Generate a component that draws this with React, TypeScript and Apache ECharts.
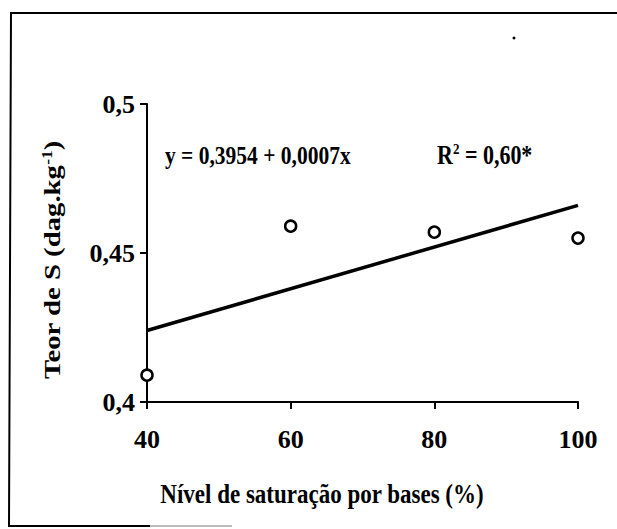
import React, { useEffect, useRef } from "react";
import * as echarts from "echarts";

const xValues = [40, 60, 80, 100];
const sValues = [0.409, 0.459, 0.457, 0.455];
const trendX = [40, 100];
const trendY = [0.424, 0.466];
const xTicks = { min: 40, max: 100, interval: 20 };
const yTicks = { min: 0.4, max: 0.5, interval: 0.05 };
const equationText = "y = 0,3954 + 0,0007x";
const r2Text = "R{sup|2} = 0,60*";
const xTitle = "Nível de saturação por bases (%)";
const yTitle = "Teor de S (dag.kg{sup|-1})";

const FONT = "Liberation Serif";

export default function App() {
  const ref = useRef<HTMLDivElement>(null);
  useEffect(() => {
    if (!ref.current) return;
    const chart = echarts.init(ref.current, null, { renderer: "svg" });
    const txt = (size: number) => ({
      fontFamily: FONT,
      fontWeight: "bold" as const,
      fontSize: size,
      fill: "#000",
    });
    const option: any = {
      animation: false,
      backgroundColor: "#ffffff",
      textStyle: { fontFamily: FONT, fontWeight: "bold", color: "#000" },
      grid: { left: 147, right: 39, top: 104, bottom: 127 },
      xAxis: {
        type: "value",
        min: xTicks.min,
        max: xTicks.max,
        interval: xTicks.interval,
        axisLine: { lineStyle: { color: "#000", width: 2 } },
        axisTick: { length: 7, lineStyle: { color: "#000", width: 2 } },
        splitLine: { show: false },
        axisLabel: {
          formatter: (v: number) => `{t|${v}}`,
          margin: 24,
          rich: {
            t: { fontFamily: FONT, fontWeight: "bold", fontSize: 26, color: "#000" },
          },
        },
      },
      yAxis: {
        type: "value",
        min: yTicks.min,
        max: yTicks.max,
        interval: yTicks.interval,
        axisLine: { lineStyle: { color: "#000", width: 2 } },
        axisTick: { length: 7, lineStyle: { color: "#000", width: 2 } },
        splitLine: { show: false },
        axisLabel: {
          margin: 12,
          formatter: (v: number) => `{t|${String(+v.toFixed(2)).replace(".", ",")}}`,
          rich: {
            t: { fontFamily: FONT, fontWeight: "bold", fontSize: 26, color: "#000" },
          },
        },
      },
      series: [
        {
          type: "line",
          data: trendX.map((x, i) => [x, trendY[i]]),
          symbol: "none",
          lineStyle: { color: "#000", width: 3.5 },
          z: 2,
        },
        {
          type: "scatter",
          data: xValues.map((x, i) => [x, sValues[i]]),
          symbol: "circle",
          symbolSize: 11,
          itemStyle: { color: "#fff", borderColor: "#000", borderWidth: 2.5, opacity: 1 },
          z: 3,
        },
      ],
      graphic: [
        {
          type: "polyline",
          shape: { points: [[620, 13], [11, 13], [9, 526], [150, 526]] },
          style: { stroke: "#000", lineWidth: 2, fill: "none" },
        },
        {
          type: "line",
          shape: { x1: 150, y1: 526, x2: 232, y2: 526 },
          style: { stroke: "#bbb", lineWidth: 2 },
        },
        {
          type: "circle",
          shape: { cx: 514, cy: 38, r: 1.5 },
          style: { fill: "#000" },
        },
        {
          type: "text",
          x: 165,
          y: 155,
          scaleY: 1.2,
          style: {
            text: equationText,
            ...txt(21.5),
            align: "left",
            verticalAlign: "middle",
          },
        },
        {
          type: "text",
          x: 437,
          y: 155,
          scaleY: 1.2,
          style: {
            text: r2Text,
            ...txt(22),
            align: "left",
            verticalAlign: "middle",
            rich: {
              sup: { ...txt(13), padding: [0, 0, 10, 0] },
            },
          },
        },
        {
          type: "text",
          x: 52,
          y: 260,
          rotation: Math.PI / 2,
          scaleX: 1.25,
          style: {
            text: yTitle,
            ...txt(23),
            align: "center",
            verticalAlign: "middle",
            rich: {
              sup: { ...txt(14), padding: [0, 0, 10, 0] },
            },
          },
        },
        {
          type: "text",
          x: 322,
          y: 493,
          scaleY: 1.2,
          style: {
            text: xTitle,
            ...txt(23),
            align: "center",
            verticalAlign: "middle",
          },
        },
      ],
    };
    chart.setOption(option);
    return () => chart.dispose();
  }, []);
  return (
    <div
      ref={ref}
      style={{ position: "fixed", left: 0, top: 0, width: 617, height: 529 }}
    />
  );
}
